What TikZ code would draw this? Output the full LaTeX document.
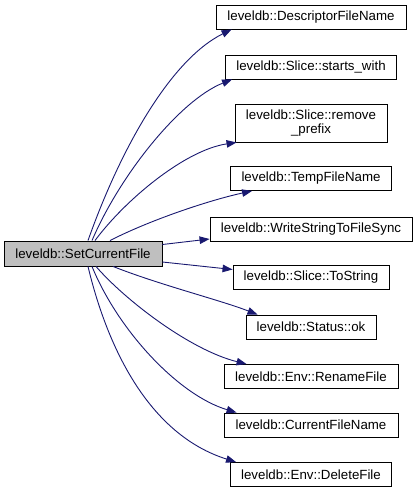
\documentclass[tikz,border=0pt]{standalone}
\usepackage{fontspec}
\setmainfont{Liberation Sans}
\usetikzlibrary{arrows.meta}
\definecolor{edgeblue}{HTML}{191970}
\definecolor{mainfill}{HTML}{BFBFBF}
\begin{document}
\begin{tikzpicture}[x=1pt,y=-1pt,
  fn/.style={draw=black,line width=0.9pt,fill=white,inner sep=0pt,minimum height=24pt,
    font=\fontsize{13.3}{14.5}\selectfont,align=center},
  edge/.style={draw=edgeblue,line width=0.9pt,-{Triangle[length=10pt,width=7.5pt]}}]
\useasboundingbox (0,0) rectangle (418,493);
\node[fn,fill=mainfill,minimum width=158pt,minimum height=25pt] (main) at (83,253.5) {leveldb::SetCurrentFile};
\node[fn,minimum width=190pt] (d1) at (311,17) {leveldb::DescriptorFileName};
\node[fn,minimum width=171pt] (d2) at (311,67) {leveldb::Slice::starts\_with};
\node[fn,minimum width=152pt,minimum height=38pt] (d3) at (311,123) {leveldb::Slice::remove\\\_prefix};
\node[fn,minimum width=161pt] (d4) at (311,178.5) {leveldb::TempFileName};
\node[fn,minimum width=202pt] (d5) at (311,229) {leveldb::WriteStringToFileSync};
\node[fn,minimum width=156pt] (d6) at (311,277.5) {leveldb::Slice::ToString};
\node[fn,minimum width=130pt] (d7) at (311,327) {leveldb::Status::ok};
\node[fn,minimum width=174pt] (d8) at (311,376.5) {leveldb::Env::RenameFile};
\node[fn,minimum width=174pt] (d9) at (311,425) {leveldb::CurrentFileName};
\node[fn,minimum width=161pt] (d10) at (311,474.5) {leveldb::Env::DeleteFile};
% top edges
\draw[edge] ([xshift=5pt]main.north) .. controls (120,150) and (170,60) .. ([xshift=16pt]d1.south west);
\draw[edge] ([xshift=9pt]main.north) .. controls (120,175) and (180,100) .. ([xshift=7pt]d2.south west);
\draw[edge] ([xshift=12pt]main.north) .. controls (125,200) and (185,150) .. ([xshift=2pt]d3.south west);
\draw[edge] ([xshift=27pt]main.north) .. controls (150,220) and (210,200) .. ([xshift=22pt]d4.south west);
% side edges
\draw[edge] ([yshift=9pt]main.east) -- ([yshift=-10pt]d5.west);
\draw[edge] ([yshift=-8.5pt]main.east) -- ([yshift=8pt]d6.west);
% bottom edges
\draw[edge] ([xshift=30pt]main.south) .. controls (160,285) and (220,300) .. ([xshift=12pt]d7.north west);
\draw[edge] ([xshift=13pt]main.south) .. controls (125,300) and (190,350) .. ([xshift=23pt]d8.north west);
\draw[edge] ([xshift=9pt]main.south) .. controls (118,330) and (178,395) .. ([xshift=13pt]d9.north west);
\draw[edge] ([xshift=5pt]main.south) .. controls (108,350) and (150,435) .. ([xshift=6pt]d10.north west);
\end{tikzpicture}
\end{document}
